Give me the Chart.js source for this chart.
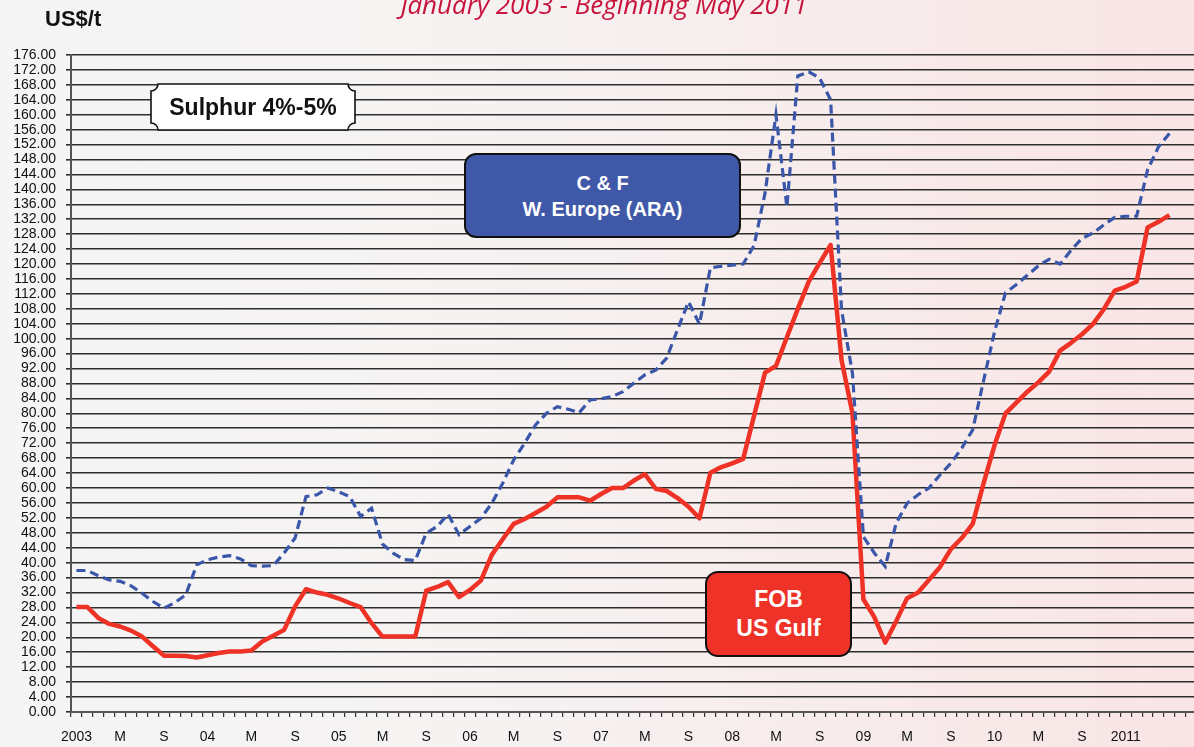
<!DOCTYPE html>
<html>
<head>
<meta charset="utf-8">
<script src="https://cdn.jsdelivr.net/npm/chart.js@4.4.1/dist/chart.umd.min.js"></script>
<style>
  html, body { margin: 0; padding: 0; width: 1194px; height: 747px; overflow: hidden; }
  body {
    position: relative;
    background: linear-gradient(to right, #f5f5f5 0%, #f6f2f2 40%, #f9e5e5 100%);
    font-family: "Liberation Sans", Arial, sans-serif;
  }
  #chart { position: absolute; left: 0; top: 0; }
  .title {
    position: absolute; left: 7px; top: -14px; width: 1194px;
    text-align: center; line-height: 26px;
    font: italic 26px "Open Sans", sans-serif; color: #c8143c;
  }
  .unit {
    position: absolute; left: 45px; top: 8px; line-height: 22px;
    font-weight: bold; font-size: 22px; color: #111;
  }
  .tag {
    position: absolute; box-sizing: border-box;
    display: flex; flex-direction: column; justify-content: center; align-items: center;
    font-weight: bold; text-align: center;
  }
  .sulphur { left: 150px; top: 83px; width: 206px; height: 48px; font-size: 23px; color: #111; }
  .sulphur svg { position: absolute; left: 0; top: 0; }
  .sulphur span { position: relative; }
  .cf {
    left: 464px; top: 153px; width: 277px; height: 85px;
    background: #4058a8; border: 2.5px solid #111; border-radius: 12px;
    color: #fff; font-size: 20px; line-height: 26px;
  }
  .fob {
    left: 705px; top: 571px; width: 147px; height: 86px;
    background: #ee3228; border: 2.5px solid #111; border-radius: 13px;
    color: #fff; font-size: 23px; line-height: 29px;
  }
</style>
</head>
<body>
<canvas id="chart" width="1260" height="747"></canvas>
<div class="title">January 2003 - Beginning May 2011</div>
<div class="unit">US$/t</div>
<div class="tag sulphur">
  <svg width="206" height="48" viewBox="0 0 206 48">
    <path d="M8 1 H198 A7 7 0 0 0 205 8 V40 A7 7 0 0 0 198 47 H8 A7 7 0 0 0 1 40 V8 A7 7 0 0 0 8 1 Z"
          fill="#fff" stroke="#111" stroke-width="1.6"/>
  </svg>
  <span>Sulphur 4%-5%</span>
</div>
<div class="tag cf"><div>C &amp; F</div><div>W. Europe (ARA)</div></div>
<div class="tag fob"><div>FOB</div><div>US Gulf</div></div>

<script>
// monthly axis Jan 2003 .. Dec 2011, labelled at Jan / May / Sep
const yearLabels = ['2003', '04', '05', '06', '07', '08', '09', '10', '2011'];
const seasonMarks = {4: 'M', 8: 'S'};

const months = [];
yearLabels.forEach((y, yi) => {
    const lastYear = yi === yearLabels.length - 1;
    for (let m = 0; m < 12; m++) {
        if (m === 0) {
            months.push(y);
        } else {
            // the running year only carries its year label
            months.push(lastYear ? '' : (seasonMarks[m] || ''));
        }
    }
});

// C & F W. Europe (ARA), US$/t, Jan 2003 - May 2011
const cfWEurope = [
    37.9, 37.9, 36.5, 35.4, 35.0, 33.8, 31.8, 29.6, 27.8, 29.3, 31.4, 39.4,
    40.8, 41.5, 41.9, 41.0, 39.2, 39.1, 39.2, 42.6, 46.6, 57.7, 58.2, 60.0,
    59.0, 57.7, 52.4, 54.6, 45.0, 42.5, 40.8, 40.6, 47.9, 49.7, 53.0, 47.5,
    49.7, 51.9, 55.9, 61.3, 67.5, 72.0, 76.9, 80.0, 81.8, 81.1, 80.2, 83.6,
    83.9, 84.5, 85.8, 88.1, 90.3, 91.6, 94.8, 102.5, 109.9, 103.9, 119.0, 119.4,
    119.7, 120.0, 125.0, 139.0, 160.0, 135.3, 170.4, 171.5, 169.8, 164.0, 107.7, 90.7,
    47.0, 42.6, 39.0, 50.6, 55.9, 58.2, 60.0, 63.5, 66.6, 70.7, 75.6, 88.8,
    101.9, 112.3, 114.5, 117.0, 119.5, 121.3, 120.0, 123.7, 126.9, 128.3, 130.5, 132.5,
    132.8, 132.8, 145.2, 151.4, 155.0,
];

// FOB US Gulf, US$/t, Jan 2003 - May 2011
const fobUSGulf = [
    28.1, 28.1, 25.2, 23.6, 22.9, 21.8, 20.2, 17.6, 15.1, 15.1, 15.0, 14.6,
    15.2, 15.8, 16.2, 16.2, 16.5, 18.9, 20.4, 22.0, 28.3, 32.9, 32.0, 31.4,
    30.4, 29.2, 28.1, 23.8, 20.2, 20.2, 20.2, 20.2, 32.5, 33.5, 34.8, 30.8,
    32.7, 35.2, 42.1, 46.3, 50.4, 51.7, 53.3, 55.0, 57.5, 57.5, 57.5, 56.6,
    58.4, 60.0, 60.0, 62.0, 63.7, 59.8, 59.2, 57.3, 55.0, 51.9, 64.1, 65.6,
    66.6, 67.8, 79.4, 90.9, 92.7, 100.4, 108.0, 115.3, 120.3, 125.1, 94.3, 80.0,
    30.2, 25.4, 18.6, 24.3, 30.5, 32.0, 35.4, 38.8, 43.6, 46.6, 50.4, 61.3,
    71.5, 80.0, 82.9, 85.8, 88.3, 91.2, 96.8, 98.9, 101.2, 103.9, 107.9, 112.9,
    113.9, 115.3, 129.8, 131.3, 133.1,
];

Chart.defaults.font.family = '"Liberation Sans", Arial, sans-serif';
Chart.defaults.color = '#111';

new Chart(document.getElementById('chart'), {
    type: 'line',
    data: {
        labels: months,
        datasets: [
            {
                label: 'C & F W. Europe (ARA)',
                data: cfWEurope,
                borderColor: '#3a56a8',
                borderWidth: 3.2,
                borderDash: [9, 5],
                pointRadius: 0,
                tension: 0,
                fill: false,
            },
            {
                label: 'FOB US Gulf',
                data: fobUSGulf,
                borderColor: '#ee3226',
                borderWidth: 4.5,
                borderJoinStyle: 'round',
                pointRadius: 0,
                tension: 0,
                fill: false,
            },
        ],
    },
    options: {
        responsive: false,
        animation: false,
        devicePixelRatio: 1,
        layout: {padding: {top: 55, right: 8.6, bottom: 0, left: 0}},
        plugins: {
            legend: {display: false},
            tooltip: {enabled: false},
        },
        scales: {
            x: {
                type: 'category',
                offset: true,
                grid: {
                    display: true,
                    drawOnChartArea: false,
                    drawTicks: true,
                    tickLength: 5,
                    offset: true,
                    color: '#333',
                    lineWidth: 1.2,
                },
                border: {display: true, color: '#555', width: 2},
                ticks: {
                    autoSkip: false,
                    maxRotation: 0,
                    minRotation: 0,
                    padding: 12,
                    font: {size: 14},
                },
                afterFit: (axis) => { axis.height = 35; },
            },
            y: {
                min: 0,
                max: 176,
                grid: {color: '#2e2e2e', lineWidth: 1.6, drawTicks: true, tickLength: 5},
                border: {display: true, color: '#555', width: 2},
                ticks: {
                    stepSize: 4,
                    autoSkip: false,
                    maxTicksLimit: 100,
                    padding: 10,
                    font: {size: 14},
                    callback: (v) => v.toFixed(2),
                },
                afterFit: (axis) => { axis.width = 71; },
            },
        },
    },
});
</script>
</body>
</html>
